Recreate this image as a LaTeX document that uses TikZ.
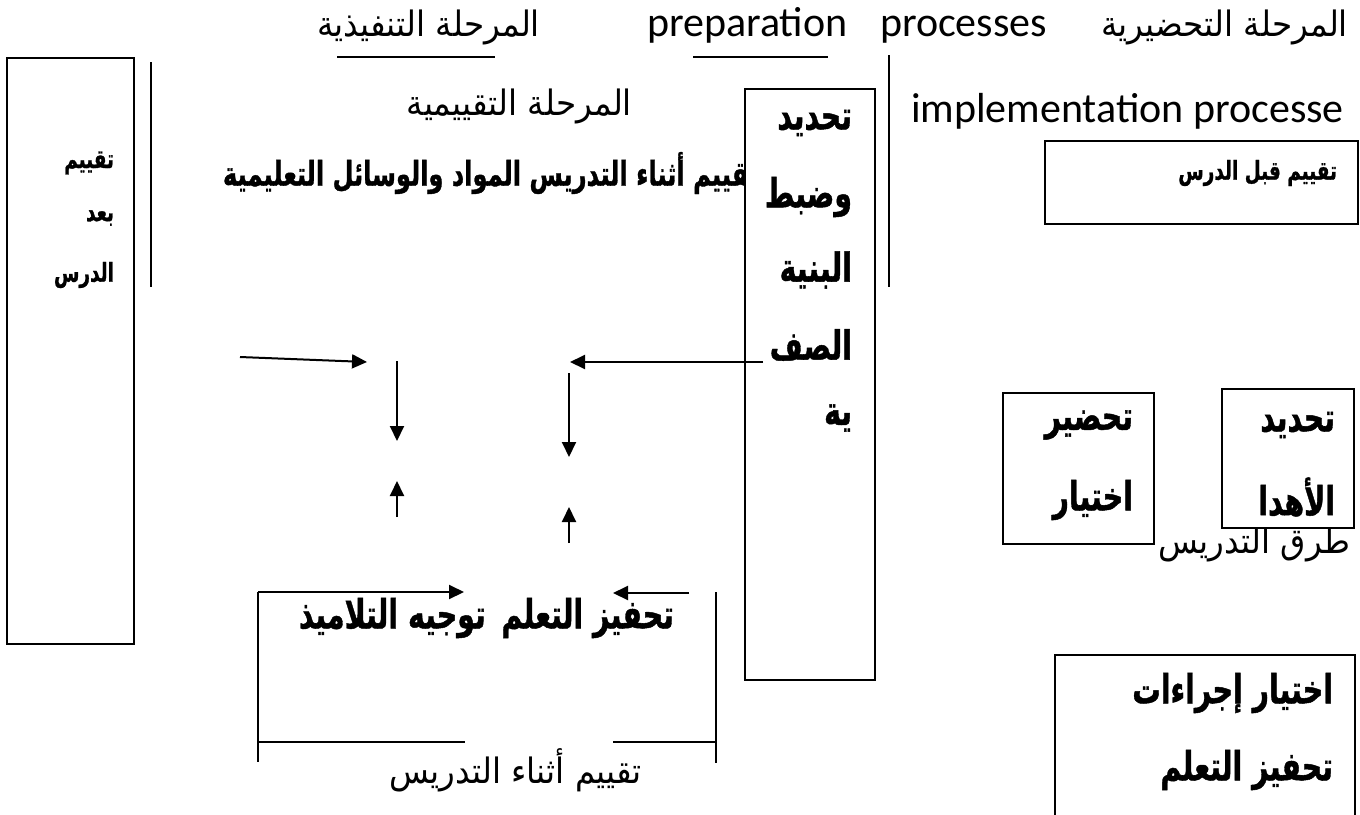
\documentclass[tikz,border=0pt]{standalone}
\usepackage{graphicx}
\usepackage{fontspec}
\setmainfont{Carlito}
\newfontfamily\ar[Script=Arabic]{DejaVu Sans}
\newfontfamily\arb[Script=Arabic, FakeBold=1.2]{DejaVu Sans Bold}
\TeXXeTstate=1
\usetikzlibrary{arrows.meta}
% regular Arabic, horizontally narrowed to the reference's Arial-like proportions
\newcommand{\AR}[1]{\scalebox{0.93}[1]{\ar\beginR #1\endR}}
% bold Arabic, narrowed
\newcommand{\ARB}[1]{\scalebox{0.71}[1]{\arb\beginR #1\endR}}
\tikzset{
  txt/.style={inner sep=0pt, outer sep=0pt},
  boxn/.style={draw, line width=1.6pt, fill=white, inner sep=0pt, anchor=north west},
  arr/.style={-{Triangle[length=15pt,width=14pt]}, line width=2pt},
  ln/.style={line width=1.6pt},
  lat/.style={txt, font=\fontsize{42}{46}\selectfont},
  areg/.style={txt, font=\fontsize{35}{38}\selectfont},
  abig/.style={txt, font=\fontsize{40}{44}\selectfont},
  amid/.style={txt, font=\fontsize{34}{38}\selectfont},
  asml/.style={txt, font=\fontsize{26}{30}\selectfont},
}
\begin{document}
\begin{tikzpicture}[x=1pt,y=-1pt]
\useasboundingbox (0,0) rectangle (1360,814);
% ---- top line texts
\node[areg, anchor=east] (tPrep) at (1348,27) {\AR{المرحلة التحضيرية}};
\node[lat, anchor=base west] (tProc) at (880,36) {processes};
\node[lat, anchor=base west] (tPrepn) at (647,36) {preparation};
\node[areg, anchor=east] (tExec) at (540,27) {\AR{المرحلة التنفيذية}};
\coordinate (u1a) at (337,57); \coordinate (u1b) at (495,57);
\coordinate (u2a) at (693,57); \coordinate (u2b) at (828,57);
\draw[ln] (u1a) -- (u1b);
\draw[ln] (u2a) -- (u2b);
\node[lat, anchor=base west] (tImpl) at (911,122) {implementation processe};
\node[areg, anchor=east] (tEval) at (632,106) {\AR{المرحلة التقييمية}};
% ---- long bold line partly hidden by tall box
\node[amid, anchor=west] (tDuring) at (223,173) {\ARB{تقييم أثناء التدريس المواد والوسائل التعليمية}};
% ---- separator lines
\coordinate (v1a) at (151,62); \coordinate (v1b) at (151,287);
\coordinate (v2a) at (889,55); \coordinate (v2b) at (889,287);
\draw[ln] (v1a) -- (v1b);
\draw[ln] (v2a) -- (v2b);
% ---- left box
\node[boxn, minimum width=127pt, minimum height=586pt] (bLeft) at (6,57) {};
\node[asml, anchor=east] (l1) at (114,163) {\ARB{تقييم}};
\node[asml, anchor=east] (l2) at (114,218) {\ARB{بعد}};
\node[asml, anchor=east] (l3) at (114,275) {\ARB{الدرس}};
% ---- tall box
\node[boxn, minimum width=130pt, minimum height=591pt] (bTall) at (744,88) {};
\node[abig, anchor=east] (k1) at (852,123) {\ARB{تحديد}};
\node[abig, anchor=east] (k2) at (852,197) {\ARB{وضبط}};
\node[abig, anchor=east] (k3) at (852,270) {\ARB{البنية}};
\node[abig, anchor=east] (k4) at (852,345) {\ARB{الصف}};
\node[abig, anchor=east] (k5) at (852,418) {\ARB{ية}};
% ---- box before lesson
\node[boxn, minimum width=313pt, minimum height=83pt] (bBefore) at (1044,140) {};
\node[asml, anchor=east] (tBefore) at (1337,173) {\ARB{تقييم قبل الدرس}};
% ---- teaching methods
\node[areg, anchor=east] (tMeth) at (1350,544) {\AR{طرق التدريس}};
\node[boxn, minimum width=151pt, minimum height=151pt] (bPrep) at (1002,392) {};
\node[abig, anchor=east] (p1) at (1133,425) {\ARB{تحضير}};
\node[abig, anchor=east] (p2) at (1133,500) {\ARB{اختيار}};
\node[boxn, minimum width=132pt, minimum height=139pt] (bGoal) at (1221,388) {};
\node[abig, anchor=east] (g1) at (1335,425) {\ARB{تحديد}};
\node[abig, anchor=east] (g2) at (1335,497) {\ARB{الأهدا}};
% ---- bottom right open box
\coordinate (br1) at (1055,820); \coordinate (br2) at (1055,655);
\coordinate (br3) at (1355,655); \coordinate (br4) at (1355,820);
\draw[ln] (br1) -- (br2) -- (br3) -- (br4);
\node[abig, anchor=east] (m1) at (1333,693) {\ARB{اختيار إجراءات}};
\node[abig, anchor=east] (m2) at (1333,770) {\ARB{تحفيز التعلم}};
% ---- arrows middle
\coordinate (a1s) at (240,357); \coordinate (a1e) at (367,362);
\coordinate (a2s) at (397,361); \coordinate (a2e) at (397,441);
\coordinate (a3s) at (397,517); \coordinate (a3e) at (397,481);
\coordinate (a4s) at (763,362); \coordinate (a4e) at (570,362);
\coordinate (a5s) at (569,373); \coordinate (a5e) at (569,457);
\coordinate (a6s) at (569,543); \coordinate (a6e) at (569,507);
\draw[arr] (a1s) -- (a1e);
\draw[arr] (a2s) -- (a2e);
\draw[arr] (a3s) -- (a3e);
\draw[arr] (a4s) -- (a4e);
\draw[arr] (a5s) -- (a5e);
\draw[arr] (a6s) -- (a6e);
% ---- bottom bracket
\node[abig, anchor=east] (tMot) at (674,618) {\ARB{تحفيز التعلم\hspace{22pt}توجيه التلاميذ}};
\node[areg, anchor=east] (tDur2) at (642,770) {\AR{تقييم أثناء التدريس}};
\coordinate (c1) at (258,592); \coordinate (c2) at (464,592);
\coordinate (c3) at (689,593); \coordinate (c4) at (613,593);
\coordinate (c5) at (258,762); \coordinate (c6) at (716,592); \coordinate (c7) at (716,763);
\coordinate (c8) at (258,742); \coordinate (c9) at (465,742);
\coordinate (c10) at (613,742); \coordinate (c11) at (716,742);
\draw[arr] (c1) -- (c2);
\draw[arr] (c3) -- (c4);
\draw[ln] (c1) -- (c5);
\draw[ln] (c6) -- (c7);
\draw[ln] (c8) -- (c9);
\draw[ln] (c10) -- (c11);
\end{tikzpicture}
\end{document}
